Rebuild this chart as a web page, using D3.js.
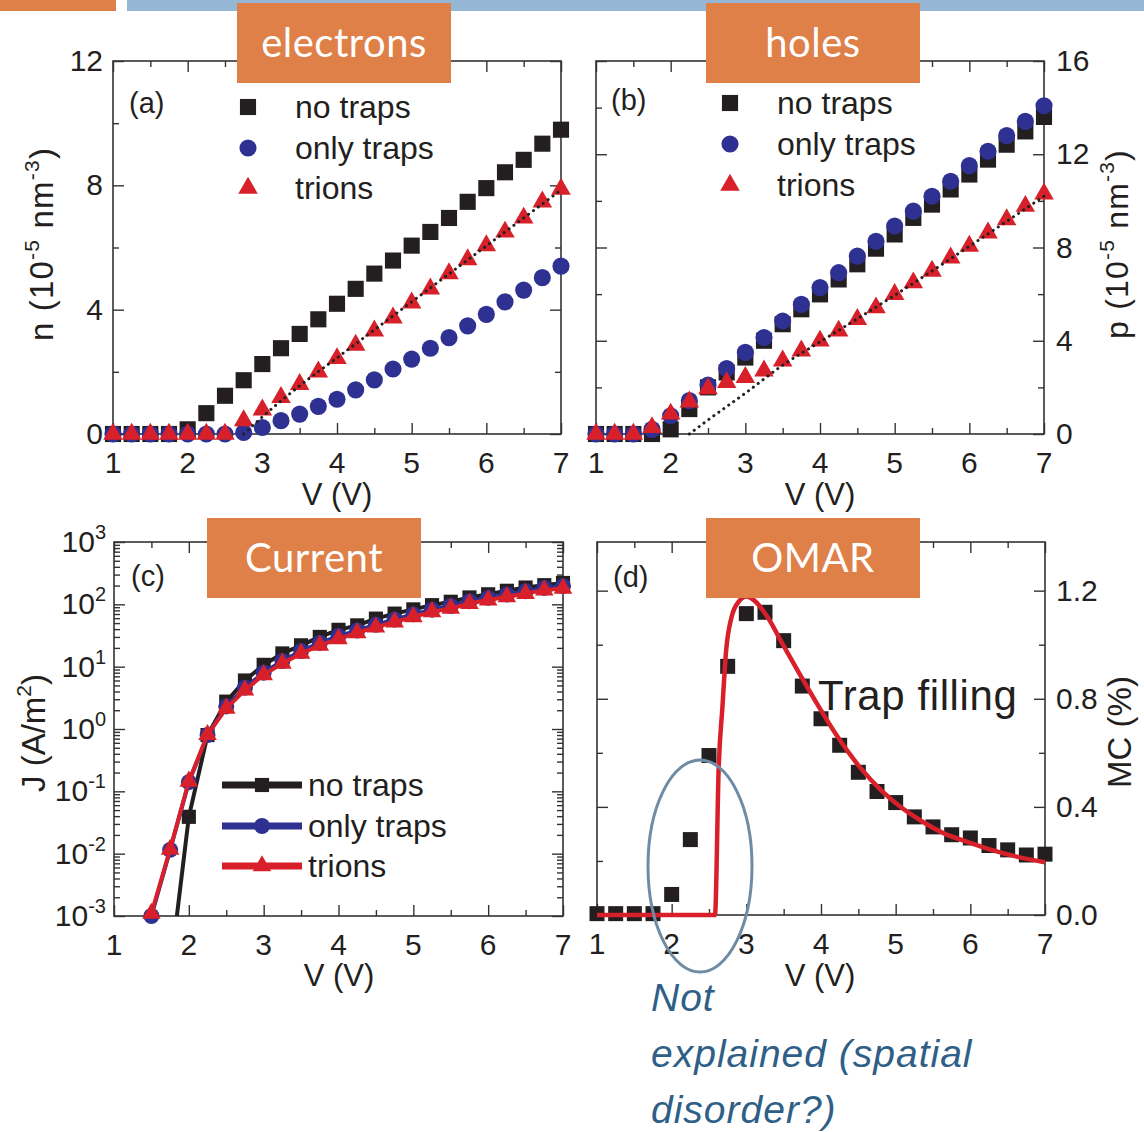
<!DOCTYPE html>
<html>
<head>
<meta charset="utf-8">
<script src="https://cdn.jsdelivr.net/npm/d3@7"></script>
<style>
body { margin: 0; background: #fff; }
text { font-family: "Liberation Sans", Arial, sans-serif; fill: #231f20; }
.tag { font-family: Lato, sans-serif; fill: #fff; }
</style>
</head>
<body>
<script>
// voltage grid used by all four panels
var volts = [1, 1.25, 1.5, 1.75, 2, 2.25, 2.5, 2.75, 3, 3.25, 3.5, 3.75, 4, 4.25, 4.5, 4.75, 5, 5.25, 5.5, 5.75, 6, 6.25, 6.5, 6.75, 7];
var voltsFrom2 = [2, 2.25, 2.5, 2.75, 3, 3.25, 3.5, 3.75, 4, 4.25, 4.5, 4.75, 5, 5.25, 5.5, 5.75, 6, 6.25, 6.5, 6.75, 7];
var voltsFrom15 = [1.5, 1.75, 2, 2.25, 2.5, 2.75, 3, 3.25, 3.5, 3.75, 4, 4.25, 4.5, 4.75, 5, 5.25, 5.5, 5.75, 6, 6.25, 6.5, 6.75, 7];

// (a) electrons, 10^-5 nm^-3
var aNoTraps   = [0, 0, 0, 0, 0.15, 0.67, 1.23, 1.73, 2.25, 2.76, 3.22, 3.69, 4.19, 4.67, 5.16, 5.58, 6.06, 6.50, 6.95, 7.47, 7.91, 8.42, 8.82, 9.34, 9.79];
var aOnlyTraps = [0, 0, 0, 0, 0, 0, 0, 0.05, 0.21, 0.43, 0.64, 0.89, 1.12, 1.42, 1.74, 2.09, 2.41, 2.76, 3.10, 3.48, 3.85, 4.25, 4.63, 5.03, 5.40];
var aTrions    = [0, 0, 0, 0, 0, 0, 0, 0.43, 0.78, 1.18, 1.60, 2.00, 2.43, 2.86, 3.32, 3.74, 4.22, 4.67, 5.16, 5.61, 6.06, 6.50, 6.95, 7.47, 7.88];
var aDotted    = [[2.75, 0], [3, 0.55], [3.5, 1.55], [4, 2.45], [5, 4.25], [6, 6.05], [7, 7.85]];

// (b) holes, 10^-5 nm^-3
var bNoTraps   = [0, 0, 0, 0, 0.2, 1.07, 2.0, 2.64, 3.28, 4.0, 4.71, 5.35, 5.99, 6.63, 7.28, 7.95, 8.56, 9.27, 9.84, 10.49, 11.13, 11.77, 12.41, 12.98, 13.6];
var bOnlyTraps = [0, 0, 0, 0.2, 0.78, 1.43, 2.1, 2.81, 3.5, 4.14, 4.85, 5.56, 6.28, 6.92, 7.63, 8.27, 8.92, 9.56, 10.2, 10.84, 11.51, 12.13, 12.8, 13.41, 14.08];
var bTrions    = [0, 0, 0, 0.28, 0.86, 1.38, 1.95, 2.21, 2.43, 2.71, 3.14, 3.57, 3.99, 4.42, 4.92, 5.42, 5.99, 6.49, 6.99, 7.56, 8.06, 8.63, 9.2, 9.77, 10.3];
var bDotted    = [[2.25, 0], [2.5, 0.6], [3, 1.75], [3.5, 2.95], [4, 3.95], [5, 5.95], [6, 8.05], [7, 10.2]];

// (c) current density, A/m^2
var cNoTrapsOnset = [1.84, 0.001];
var cNoTraps   = [0.039, 0.8, 2.75, 6.0, 10.7, 16.3, 22, 30, 39, 46, 59, 71, 83, 97, 110, 129, 145, 165, 186, 203, 220];
var cOnlyTraps = [0.001, 0.0115, 0.14, 0.8, 2.3, 4.6, 8.0, 12.3, 17.8, 24, 31, 38, 47, 57, 69, 82, 94, 112, 127, 144, 162, 183, 196];
var cTrions    = [0.0011, 0.0117, 0.145, 0.81, 2.15, 4.2, 7.4, 11.3, 16.3, 22, 28, 35, 43, 52, 63, 76, 86, 103, 117, 132, 149, 169, 180];

// (d) OMAR, MC (%)
var dMeasured = [0.005, 0.005, 0.005, 0.005, 0.076, 0.279, 0.59, 0.92, 1.115, 1.12, 1.015, 0.847, 0.726, 0.628, 0.528, 0.457, 0.416, 0.363, 0.326, 0.297, 0.285, 0.257, 0.241, 0.222, 0.225];
var dFit = [[1, 0], [2.58, 0], [2.63, 0.547], [2.68, 0.77], [2.73, 0.98], [2.8, 1.10], [2.9, 1.16], [3.0, 1.178], [3.1, 1.165],
            [3.29, 1.10], [3.49, 1.0], [3.73, 0.884], [3.98, 0.766], [4.22, 0.66], [4.52, 0.547], [4.81, 0.46], [5.05, 0.403],
            [5.35, 0.347], [5.64, 0.303], [5.94, 0.272], [6.28, 0.241], [6.62, 0.216], [7.0, 0.195]];

var seriesNames = ["no traps", "only traps", "trions"];
var xMajor = [1, 2, 3, 4, 5, 6, 7];
var xMinor = [1.5, 2.5, 3.5, 4.5, 5.5, 6.5];
var logMajor = [1e-3, 1e-2, 1e-1, 1e0, 1e1, 1e2, 1e3];
var logExp = ["-3", "-2", "-1", "0", "1", "2", "3"];

var BLACK = "#231f20", BLUE = "#2e3192", RED = "#d7202a", ORANGE = "#df8049";
var TICK_FS = 30, TITLE_FS = 31, LEG_FS = 32;

var svg = d3.select("body").append("svg")
    .attr("width", 1144)
    .attr("height", 1132);

// slide header bars
svg.append("rect").attr("x", 0).attr("y", 0).attr("width", 116).attr("height", 11).attr("fill", ORANGE);
svg.append("rect").attr("x", 127).attr("y", 0).attr("width", 1017).attr("height", 11).attr("fill", "#95b6d5");

function axes(g, x, y, yMajor, yMinor) {
    var L = x.range()[0], R = x.range()[1], B = y.range()[0], T = y.range()[1];
    function ax(gen, tx, ty, vals, size) {
        var a = g.append("g").attr("transform", "translate(" + tx + "," + ty + ")")
            .call(gen.tickValues(vals).tickSize(size).tickFormat(""));
        a.select(".domain").remove();
        a.selectAll("line").attr("stroke", "#333").attr("stroke-width", 1.4);
    }
    ax(d3.axisBottom(x), 0, B, xMajor, -11);
    ax(d3.axisBottom(x), 0, B, xMinor, -6);
    ax(d3.axisTop(x), 0, T, xMajor, -11);
    ax(d3.axisTop(x), 0, T, xMinor, -6);
    ax(d3.axisLeft(y), L, 0, yMajor, -11);
    ax(d3.axisLeft(y), L, 0, yMinor, -6);
    ax(d3.axisRight(y), R, 0, yMajor, -11);
    ax(d3.axisRight(y), R, 0, yMinor, -6);
    g.append("rect").attr("x", L).attr("y", T).attr("width", R - L).attr("height", B - T)
        .attr("fill", "none").attr("stroke", "#333").attr("stroke-width", 1.6);
    g.selectAll(".xl").data(xMajor).join("text")
        .attr("x", d => x(d)).attr("y", B + 39)
        .attr("text-anchor", "middle").attr("font-size", TICK_FS).text(d => d);
}

function marks(g, x, y, xs, ys, shape, color, size) {
    var sym = d3.symbol().type(shape).size(size);
    g.append("g").selectAll("path").data(ys.map((v, i) => [xs[i], v])).join("path")
        .attr("transform", d => "translate(" + x(d[0]) + "," + y(d[1]) + ")")
        .attr("d", sym)
        .attr("fill", color);
}

function tag(cx, cy, label) {
    svg.append("rect").attr("x", cx - 107).attr("y", cy - 40).attr("width", 214).attr("height", 80).attr("fill", ORANGE);
    svg.append("text").attr("class", "tag").attr("x", cx).attr("y", cy + 14)
        .attr("text-anchor", "middle").attr("font-size", 40).attr("letter-spacing", 0.5).text(label);
}

// parts: [text, superscript?]
function yTitle(x, y, parts, fs, ls) {
    fs = fs || TITLE_FS;
    var t = svg.append("text").attr("transform", "translate(" + x + "," + y + ") rotate(-90)")
        .attr("text-anchor", "middle").attr("font-size", fs).attr("letter-spacing", ls || 0);
    var up = false;
    parts.forEach(function(p) {
        var dy = 0;
        if (p[1] && !up) dy = -14;
        if (!p[1] && up) dy = 14;
        up = !!p[1];
        t.append("tspan").attr("font-size", p[1] ? 21 : fs).attr("dy", dy).text(p[0]);
    });
}

function legend(g, x0, ys, shapes, colors, sizes, withLine) {
    seriesNames.forEach(function(name, i) {
        if (withLine) {
            g.append("line").attr("x1", x0 - 40).attr("x2", x0 + 40).attr("y1", ys[i]).attr("y2", ys[i])
                .attr("stroke", colors[i]).attr("stroke-width", 7);
        }
        g.append("path").attr("transform", "translate(" + x0 + "," + ys[i] + ")")
            .attr("d", d3.symbol().type(shapes[i]).size(sizes[i])).attr("fill", colors[i]);
        g.append("text").attr("x", x0 + (withLine ? 46 : 47)).attr("y", ys[i] + 11)
            .attr("font-size", LEG_FS).text(name);
    });
}

var shapes = [d3.symbolSquare, d3.symbolCircle, d3.symbolTriangle];
var colors = [BLACK, BLUE, RED];

// ---------- (a) electrons ----------
var xa = d3.scaleLinear().domain([1, 7]).range([113, 561]);
var ya = d3.scaleLinear().domain([0, 12]).range([434, 61]);
var ga = svg.append("g");
axes(ga, xa, ya, [0, 4, 8, 12], [2, 6, 10]);
ga.selectAll(".yl").data([0, 4, 8, 12]).join("text")
    .attr("x", 103).attr("y", d => ya(d) + 10).attr("text-anchor", "end").attr("font-size", TICK_FS).text(d => d);
marks(ga, xa, ya, volts, aNoTraps, d3.symbolSquare, BLACK, 260);
marks(ga, xa, ya, volts, aOnlyTraps, d3.symbolCircle, BLUE, 230);
marks(ga, xa, ya, volts, aTrions, d3.symbolTriangle, RED, 165);
ga.append("path").attr("d", d3.line().x(d => xa(d[0])).y(d => ya(d[1])).curve(d3.curveMonotoneX)(aDotted))
    .attr("fill", "none").attr("stroke", "#222").attr("stroke-width", 3)
    .attr("stroke-linecap", "round").attr("stroke-dasharray", "0.1,6");
legend(ga, 248, [107, 148, 188], shapes, colors, [260, 230, 165], false);
ga.append("text").attr("x", 129).attr("y", 113).attr("font-size", 29).text("(a)");
ga.append("text").attr("x", 337).attr("y", 505).attr("text-anchor", "middle").attr("font-size", TITLE_FS).text("V (V)");
yTitle(53, 244, [["n (10"], ["-5", 1], [" nm"], ["-3", 1], [")"]], 33, 1.2);

// ---------- (b) holes ----------
var xb = d3.scaleLinear().domain([1, 7]).range([596, 1044]);
var yb = d3.scaleLinear().domain([0, 16]).range([434, 61]);
var gb = svg.append("g");
axes(gb, xb, yb, [0, 4, 8, 12, 16], [2, 6, 10, 14]);
gb.selectAll(".yl").data([0, 4, 8, 12, 16]).join("text")
    .attr("x", 1056).attr("y", d => yb(d) + 10).attr("font-size", TICK_FS).text(d => d);
marks(gb, xb, yb, volts, bNoTraps, d3.symbolSquare, BLACK, 260);
marks(gb, xb, yb, volts, bOnlyTraps, d3.symbolCircle, BLUE, 230);
marks(gb, xb, yb, volts, bTrions, d3.symbolTriangle, RED, 165);
gb.append("path").attr("d", d3.line().x(d => xb(d[0])).y(d => yb(d[1])).curve(d3.curveMonotoneX)(bDotted))
    .attr("fill", "none").attr("stroke", "#222").attr("stroke-width", 3)
    .attr("stroke-linecap", "round").attr("stroke-dasharray", "0.1,6");
legend(gb, 730, [103, 144, 185], shapes, colors, [260, 230, 165], false);
gb.append("text").attr("x", 611).attr("y", 110).attr("font-size", 29).text("(b)");
gb.append("text").attr("x", 820).attr("y", 505).attr("text-anchor", "middle").attr("font-size", TITLE_FS).text("V (V)");
yTitle(1128, 244, [["p (10"], ["-5", 1], [" nm"], ["-3", 1], [")"]], 32, 1.2);

// ---------- (c) current ----------
var xc = d3.scaleLinear().domain([1, 7]).range([114, 563]);
var yc = d3.scaleLog().domain([1e-3, 1e3]).range([916, 542]);
var gc = svg.append("g");
var logMinor = [];
logMajor.slice(0, 6).forEach(function(m) { [2, 3, 4, 5, 6, 7, 8, 9].forEach(function(k) { logMinor.push(m * k); }); });
axes(gc, xc, yc, logMajor, logMinor);
gc.selectAll(".yl").data(logMajor).join("text")
    .attr("x", 106).attr("y", d => yc(d) + 10).attr("text-anchor", "end").attr("font-size", TICK_FS)
    .each(function(d, i) {
        var t = d3.select(this);
        t.append("tspan").text("10");
        t.append("tspan").attr("font-size", 20).attr("dy", -13).text(logExp[i]);
    });
var lc = d3.line().x(d => xc(d[0])).y(d => yc(d[1]));
gc.append("path").attr("d", lc([cNoTrapsOnset].concat(voltsFrom2.map((v, i) => [v, cNoTraps[i]]))))
    .attr("fill", "none").attr("stroke", BLACK).attr("stroke-width", 4);
marks(gc, xc, yc, voltsFrom2, cNoTraps, d3.symbolSquare, BLACK, 200);
gc.append("path").attr("d", lc(voltsFrom15.map((v, i) => [v, cOnlyTraps[i]])))
    .attr("fill", "none").attr("stroke", BLUE).attr("stroke-width", 4);
marks(gc, xc, yc, voltsFrom15, cOnlyTraps, d3.symbolCircle, BLUE, 200);
gc.append("path").attr("d", lc(voltsFrom15.map((v, i) => [v, cTrions[i]])))
    .attr("fill", "none").attr("stroke", RED).attr("stroke-width", 4);
marks(gc, xc, yc, voltsFrom15, cTrions, d3.symbolTriangle, RED, 150);
legend(gc, 262, [785, 826, 866], shapes, colors, [200, 200, 150], true);
gc.append("text").attr("x", 131).attr("y", 586).attr("font-size", 29).text("(c)");
gc.append("text").attr("x", 339).attr("y", 986).attr("text-anchor", "middle").attr("font-size", TITLE_FS).text("V (V)");
yTitle(45, 733, [["J (A/m"], ["2", 1], [")"]], 33);

// ---------- (d) OMAR ----------
var xd = d3.scaleLinear().domain([1, 7]).range([597, 1045]);
var yd = d3.scaleLinear().domain([0, 1.38]).range([915, 542]);
var gd = svg.append("g");
axes(gd, xd, yd, [0, 0.4, 0.8, 1.2], [0.2, 0.6, 1.0]);
gd.selectAll(".yl").data([0, 0.4, 0.8, 1.2]).join("text")
    .attr("x", 1056).attr("y", d => yd(d) + 10).attr("font-size", TICK_FS).text(d => d.toFixed(1));
marks(gd, xd, yd, volts, dMeasured, d3.symbolSquare, BLACK, 225);
gd.append("path").attr("d", d3.line().x(d => xd(d[0])).y(d => yd(d[1])).curve(d3.curveMonotoneX)(dFit))
    .attr("fill", "none").attr("stroke", RED).attr("stroke-width", 4.5);
gd.append("text").attr("x", 613).attr("y", 587).attr("font-size", 29).text("(d)");
gd.append("text").attr("x", 820).attr("y", 986).attr("text-anchor", "middle").attr("font-size", TITLE_FS).text("V (V)");
yTitle(1131, 732, [["MC (%)"]], 33);

// annotations
gd.append("ellipse").attr("cx", 700).attr("cy", 866).attr("rx", 52).attr("ry", 106)
    .attr("fill", "none").attr("stroke", "#6e8ca6").attr("stroke-width", 3);
gd.append("text").attr("x", 818).attr("y", 710).attr("font-family", "Lato, sans-serif")
    .attr("font-size", 42).attr("letter-spacing", 0.6).text("Trap filling");
var note = svg.append("text").attr("font-family", "Lato, sans-serif").attr("font-style", "italic")
    .attr("font-size", 39).attr("letter-spacing", 1).style("fill", "#2f5f86");
["Not", "explained (spatial", "disorder?)"].forEach(function(s, i) {
    note.append("tspan").attr("x", 651).attr("y", 1011 + i * 56).text(s);
});

// orange labels
tag(344, 43, "electrons");
tag(813, 43, "holes");
tag(314, 558, "Current");
tag(813, 558, "OMAR");
</script>
</body>
</html>
